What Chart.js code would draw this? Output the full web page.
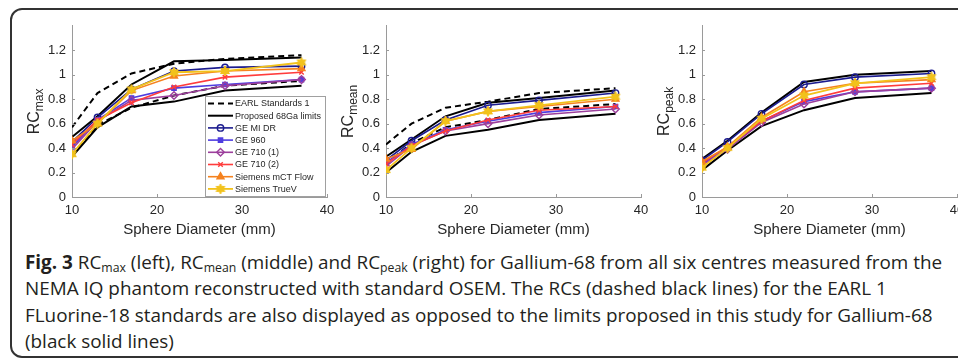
<!DOCTYPE html>
<html>
<head>
<meta charset="utf-8">
<script src="https://cdn.jsdelivr.net/npm/chart.js@4.4.0/dist/chart.umd.min.js"></script>
<style>
  html, body { margin: 0; padding: 0; background: #fff; width: 958px; height: 360px; overflow: hidden; }
  #frame { position: absolute; left: 10px; top: 8px; width: 970px; height: 346px; border: 2px solid #333; border-radius: 12px; }
  canvas { position: absolute; }
  #cap { position: absolute; left: 25px; top: 249px; font-family: "Open Sans", Lato, sans-serif; font-size: 17px;
         line-height: 26.3px; color: #231f20; white-space: nowrap; }
  #cap sub { font-size: 0.65em; line-height: 0; vertical-align: -3px; }
  #cap span { display: inline-block; }
</style>
</head>
<body>
<div id="frame"></div>
<canvas id="cMax" width="330" height="230" style="left:12px;top:12px"></canvas>
<canvas id="cMean" width="330" height="230" style="left:326px;top:12px"></canvas>
<canvas id="cPeak" width="330" height="230" style="left:642px;top:12px"></canvas>
<div id="cap"><span id="line1"><b>Fig. 3</b> RC<sub>max</sub> (left), RC<sub>mean</sub> (middle) and RC<sub>peak</sub> (right) for Gallium-68 from all six centres measured from the</span><br>NEMA IQ phantom reconstructed with standard OSEM. The RCs (dashed black lines) for the EARL 1<br>FLuorine-18 standards are also displayed as opposed to the limits proposed in this study for Gallium-68<br>(black solid lines)</div>
<script>
// sphere diameters (mm)
const diameters = [10, 13, 17, 22, 28, 37];
const xTicks = [10, 20, 30, 40];
const yTicks = [0, 0.2, 0.4, 0.6, 0.8, 1, 1.2];

// RCmax
const maxEarlLow  = [0.34, 0.59, 0.73, 0.83, 0.91, 0.95];
const maxEarlHigh = [0.57, 0.85, 1.01, 1.09, 1.13, 1.16];
const maxLimLow   = [0.33, 0.57, 0.74, 0.78, 0.87, 0.91];
const maxLimHigh  = [0.49, 0.66, 0.92, 1.11, 1.12, 1.14];
const maxMiDr     = [0.45, 0.65, 0.88, 1.03, 1.06, 1.07];
const max960      = [0.41, 0.63, 0.81, 0.89, 0.92, 0.96];
const max710a     = [0.39, 0.62, 0.79, 0.83, 0.91, 0.96];
const max710b     = [0.43, 0.63, 0.77, 0.90, 0.98, 1.02];
const maxMct      = [0.46, 0.60, 0.87, 0.99, 1.03, 1.05];
const maxTrueV    = [0.35, 0.60, 0.88, 1.02, 1.03, 1.10];

// RCmean
const meanEarlLow  = [0.27, 0.44, 0.57, 0.63, 0.72, 0.76];
const meanEarlHigh = [0.43, 0.60, 0.73, 0.78, 0.85, 0.89];
const meanLimLow   = [0.20, 0.37, 0.50, 0.55, 0.63, 0.68];
const meanLimHigh  = [0.33, 0.47, 0.66, 0.77, 0.81, 0.87];
const meanMiDr     = [0.30, 0.46, 0.63, 0.75, 0.79, 0.85];
const mean960      = [0.28, 0.43, 0.55, 0.62, 0.69, 0.74];
const mean710a     = [0.25, 0.42, 0.54, 0.60, 0.67, 0.72];
const mean710b     = [0.27, 0.42, 0.54, 0.63, 0.71, 0.74];
const meanMct      = [0.31, 0.39, 0.62, 0.70, 0.74, 0.80];
const meanTrueV    = [0.22, 0.40, 0.62, 0.70, 0.75, 0.82];

// RCpeak (no EARL values)
const peakLimLow  = [0.22, 0.38, 0.58, 0.71, 0.81, 0.85];
const peakLimHigh = [0.31, 0.46, 0.69, 0.94, 1.00, 1.03];
const peakMiDr    = [0.30, 0.45, 0.68, 0.92, 0.98, 1.01];
const peak960     = [0.27, 0.40, 0.62, 0.78, 0.86, 0.89];
const peak710a    = [0.26, 0.39, 0.61, 0.76, 0.86, 0.89];
const peak710b    = [0.28, 0.41, 0.62, 0.79, 0.89, 0.93];
const peakMct     = [0.29, 0.41, 0.65, 0.86, 0.93, 0.96];
const peakTrueV   = [0.24, 0.40, 0.64, 0.83, 0.93, 0.98];

const seriesNames = ["EARL Standards 1", "Proposed 68Ga limits", "GE MI DR", "GE 960",
  "GE 710 (1)", "GE 710 (2)", "Siemens mCT Flow", "Siemens TrueV"];

const FONT = '"Liberation Sans", Arial, sans-serif';
const TXT = '#262626';

// caption: fit first line to the width it has in the figure
(function () {
  const cap = document.getElementById('cap');
  const w = document.getElementById('line1').getBoundingClientRect().width;
  cap.style.fontSize = (17 * 918 / w).toFixed(2) + 'px';
})();

// filled hexagram marker like matlab 'h'
function makeStar(r, color) {
  const c = document.createElement('canvas');
  c.width = c.height = r * 2 + 2;
  const g = c.getContext('2d');
  g.beginPath();
  for (let i = 0; i < 12; i++) {
    const a = -Math.PI / 2 + i * Math.PI / 6;
    const rr = i % 2 ? r * 0.55 : r;
    g.lineTo(r + 1 + rr * Math.cos(a), r + 1 + rr * Math.sin(a));
  }
  g.closePath();
  g.fillStyle = color; g.fill();
  g.strokeStyle = color; g.lineWidth = 1; g.stroke();
  return c;
}

const styles = [
  { color: '#000000', width: 2, dash: [6, 4] },
  { color: '#000000', width: 2 },
  { color: '#1c1c8f', width: 1.6, pointStyle: 'circle', radius: 3.2, open: true },
  { color: '#4f3de0', width: 1.6, pointStyle: 'rect', radius: 3 },
  { color: '#9c3f9c', width: 1.6, pointStyle: 'rectRot', radius: 3.8, open: true },
  { color: '#ff3c3c', width: 1.6, pointStyle: 'crossRot', radius: 3.2 },
  { color: '#f5821f', width: 1.6, pointStyle: 'triangle', radius: 4 },
  { color: '#f2c21b', width: 1.8, pointStyle: makeStar(5, '#f2c21b'), radius: 5 }
];

function makeSet(values, st, order) {
  return {
    data: diameters.map((d, i) => ({ x: d, y: values[i] })),
    borderColor: st.color,
    backgroundColor: st.color,
    borderWidth: st.width,
    borderDash: st.dash || [],
    pointStyle: st.pointStyle || false,
    pointRadius: st.pointStyle ? st.radius : 0,
    pointBorderWidth: 1.4,
    pointBorderColor: st.color,
    pointBackgroundColor: st.open ? 'rgba(255,255,255,0)' : st.color,
    tension: 0,
    fill: false,
    order: order
  };
}

// subscript y label (RC_max etc.)
const rcLabel = {
  id: 'rcLabel',
  afterDraw(chart, args, opts) {
    const ctx = chart.ctx, a = chart.chartArea;
    ctx.save();
    ctx.fillStyle = TXT;
    ctx.translate(opts.x, (a.top + a.bottom) / 2);
    ctx.rotate(-Math.PI / 2);
    ctx.textBaseline = 'alphabetic';
    ctx.font = '16px ' + FONT;
    const w1 = ctx.measureText('RC').width;
    ctx.font = '12px ' + FONT;
    const w2 = ctx.measureText(opts.sub).width;
    const s = -(w1 + w2) / 2;
    ctx.font = '16px ' + FONT;
    ctx.fillText('RC', s, 0);
    ctx.font = '12px ' + FONT;
    ctx.fillText(opts.sub, s + w1, 4);
    ctx.restore();
  }
};

// small inward tick marks
const innerTicks = {
  id: 'innerTicks',
  afterDraw(chart) {
    const ctx = chart.ctx, a = chart.chartArea;
    const xs = chart.scales.x, ys = chart.scales.y;
    ctx.save();
    ctx.strokeStyle = '#9a9a9a';
    ctx.lineWidth = 1;
    ctx.beginPath();
    xTicks.forEach(v => {
      const px = Math.round(xs.getPixelForValue(v)) + 0.5;
      ctx.moveTo(px, a.bottom); ctx.lineTo(px, a.bottom - 3);
    });
    yTicks.forEach(v => {
      const py = Math.round(ys.getPixelForValue(v)) + 0.5;
      ctx.moveTo(a.left, py); ctx.lineTo(a.left + 3, py);
    });
    ctx.stroke();
    ctx.restore();
  }
};

// legend box inside the left panel
const boxLegend = {
  id: 'boxLegend',
  afterDraw(chart) {
    const ctx = chart.ctx, a = chart.chartArea;
    const w = 120, h = 100;
    const bx = a.right - w - 2, by = a.bottom - h - 1;
    ctx.save();
    ctx.fillStyle = '#fff';
    ctx.fillRect(bx, by, w, h);
    ctx.strokeStyle = '#a0a0a0';
    ctx.lineWidth = 1;
    ctx.strokeRect(bx + 0.5, by + 0.5, w, h);
    ctx.font = '9px ' + FONT;
    ctx.textBaseline = 'middle';
    seriesNames.forEach((name, i) => {
      const st = styles[i];
      const y = by + 7.5 + i * 12.2;
      ctx.strokeStyle = st.color;
      ctx.lineWidth = st.width;
      ctx.setLineDash(st.dash || []);
      ctx.beginPath();
      ctx.moveTo(bx + 3, y); ctx.lineTo(bx + 28, y);
      ctx.stroke();
      ctx.setLineDash([]);
      if (st.pointStyle) {
        ctx.fillStyle = st.open ? 'rgba(255,255,255,0)' : st.color;
        ctx.strokeStyle = st.color;
        ctx.lineWidth = 1.4;
        Chart.helpers.drawPoint(ctx, { pointStyle: st.pointStyle, radius: st.radius, borderWidth: 1.4, rotation: 0 }, bx + 15.5, y);
      }
      ctx.fillStyle = TXT;
      ctx.fillText(name, bx + 30, y + 0.5);
    });
    ctx.restore();
  }
};

function makeChart(id, sub, sets, withLegend) {
  const datasets = sets.map(([vals, si], k) => makeSet(vals, styles[si], sets.length - k));
  const plugins = [innerTicks, rcLabel];
  if (withLegend) plugins.push(boxLegend);
  return new Chart(document.getElementById(id), {
    type: 'line',
    data: { datasets: datasets },
    plugins: plugins,
    options: {
      responsive: false,
      animation: false,
      devicePixelRatio: 1,
      layout: { padding: { top: 13, right: 15, left: 0, bottom: 0 } },
      plugins: {
        legend: { display: false },
        tooltip: { enabled: false },
        rcLabel: { x: 27, sub: sub }
      },
      scales: {
        x: {
          type: 'linear', min: 10, max: 40,
          grid: { display: false, drawTicks: false, tickLength: 0 },
          border: { color: '#9a9a9a', width: 1 },
          afterBuildTicks: s => { s.ticks = xTicks.map(v => ({ value: v })); },
          afterFit: s => { s.height = 45; },
          ticks: { color: TXT, font: { family: FONT, size: 13 }, padding: 6, maxRotation: 0 },
          title: { display: true, text: 'Sphere Diameter (mm)', color: TXT,
                   font: { family: FONT, size: 15 }, padding: { top: 0, bottom: 3 } }
        },
        y: {
          min: 0, max: 1.4,
          grid: { display: false, drawTicks: false, tickLength: 0 },
          border: { color: '#9a9a9a', width: 1 },
          afterBuildTicks: s => { s.ticks = yTicks.map(v => ({ value: v })); },
          afterFit: s => { s.width = 60; },
          ticks: { color: TXT, font: { family: FONT, size: 13 }, padding: 6,
                   callback: v => String(+v.toFixed(1)) }
        }
      }
    }
  });
}

makeChart('cMax', 'max', [
  [maxEarlHigh, 0], [maxEarlLow, 0], [maxLimHigh, 1], [maxLimLow, 1],
  [maxMiDr, 2], [max960, 3], [max710a, 4], [max710b, 5], [maxMct, 6], [maxTrueV, 7]
], true);

makeChart('cMean', 'mean', [
  [meanEarlHigh, 0], [meanEarlLow, 0], [meanLimHigh, 1], [meanLimLow, 1],
  [meanMiDr, 2], [mean960, 3], [mean710a, 4], [mean710b, 5], [meanMct, 6], [meanTrueV, 7]
], false);

makeChart('cPeak', 'peak', [
  [peakLimHigh, 1], [peakLimLow, 1],
  [peakMiDr, 2], [peak960, 3], [peak710a, 4], [peak710b, 5], [peakMct, 6], [peakTrueV, 7]
], false);
</script>
</body>
</html>
